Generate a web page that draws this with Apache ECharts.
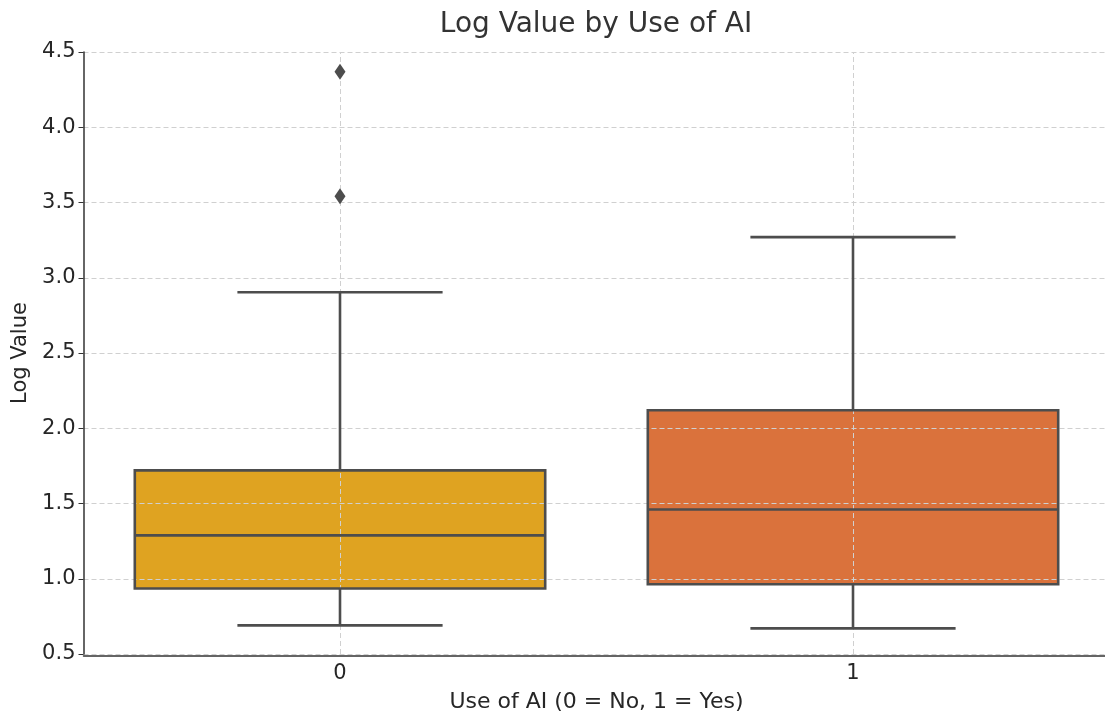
<!DOCTYPE html>
<html>
<head>
<meta charset="utf-8">
<title>Log Value by Use of AI</title>
<script src="https://cdn.jsdelivr.net/npm/echarts@6/dist/echarts.min.js"></script>
<style>
  html, body { margin: 0; padding: 0; background: #fff; }
  #chart { width: 1105px; height: 714px; }
</style>
</head>
<body>
<div id="chart"></div>
<script>
// 数据
const categories = ['0', '1'];
const lowWhisker = [0.69, 0.67];
const q1 = [0.935, 0.963];
const median = [1.288, 1.46];
const q3 = [1.72, 2.12];
const highWhisker = [2.904, 3.27];
const outliers = [[0, 3.542], [0, 4.368]];
const boxColors = ['#DFA321', '#DA723C'];

const FONT = 'DejaVu Sans';
const EDGE = '#4d4d4d';

const boxData = categories.map(function (c, i) {
  return [i, lowWhisker[i], q1[i], median[i], q3[i], highWhisker[i]];
});

// 箱体填充
function renderFill(params, api) {
  const idx = api.value(0);
  const band = api.size([1, 0])[0];
  const w = band * 0.8;
  const top = api.coord([idx, api.value(4)]);
  const bot = api.coord([idx, api.value(2)]);
  return {
    type: 'rect',
    shape: { x: top[0] - w / 2, y: top[1], width: w, height: bot[1] - top[1] },
    style: { fill: boxColors[idx] }
  };
}

// 箱体边框、中位线、须
function renderLines(params, api) {
  const idx = api.value(0);
  const band = api.size([1, 0])[0];
  const w = band * 0.8;
  const cap = band * 0.4;
  const lo = api.coord([idx, api.value(1)]);
  const b1 = api.coord([idx, api.value(2)]);
  const md = api.coord([idx, api.value(3)]);
  const b3 = api.coord([idx, api.value(4)]);
  const hi = api.coord([idx, api.value(5)]);
  const cx = lo[0];
  const ls = { stroke: EDGE, lineWidth: 2.6, fill: null };
  return {
    type: 'group',
    children: [
      { type: 'rect', shape: { x: cx - w / 2, y: b3[1], width: w, height: b1[1] - b3[1] }, style: ls },
      { type: 'line', shape: { x1: cx - w / 2, y1: md[1], x2: cx + w / 2, y2: md[1] }, style: ls },
      { type: 'line', shape: { x1: cx, y1: b1[1], x2: cx, y2: lo[1] }, style: ls },
      { type: 'line', shape: { x1: cx, y1: b3[1], x2: cx, y2: hi[1] }, style: ls },
      { type: 'line', shape: { x1: cx - cap / 2, y1: lo[1], x2: cx + cap / 2, y2: lo[1] }, style: ls },
      { type: 'line', shape: { x1: cx - cap / 2, y1: hi[1], x2: cx + cap / 2, y2: hi[1] }, style: ls }
    ]
  };
}

const myChart = echarts.init(document.getElementById('chart'));

const options = {
  animation: false,
  textStyle: { fontFamily: FONT },
  title: {
    text: 'Log Value by Use of AI',
    left: 591,
    textAlign: 'center',
    top: 6,
    textStyle: { fontFamily: FONT, fontSize: 28, fontWeight: 'normal', color: '#333333' }
  },
  grid: { left: 83.5, right: -4.5, top: 52, bottom: 60, outerBoundsMode: 'none', containLabel: false },
  xAxis: {
    type: 'category',
    data: categories,
    boundaryGap: true,
    offset: 2,
    z: 2,
    name: 'Use of AI (0 = No, 1 = Yes)',
    nameLocation: 'middle',
    nameGap: 35,
    nameTextStyle: { fontFamily: FONT, fontSize: 22, color: '#262626' },
    axisLine: { lineStyle: { color: '#333333', width: 1.5 } },
    axisTick: { alignWithLabel: true, inside: true, length: 4, lineStyle: { color: '#333333' } },
    axisLabel: { fontFamily: FONT, fontSize: 21, color: '#262626', margin: 7 },
    splitLine: { show: false }
  },
  yAxis: {
    type: 'value',
    min: 0.5,
    max: 4.5,
    interval: 0.5,
    z: 2,
    name: 'Log Value',
    nameLocation: 'middle',
    nameGap: 50,
    nameTextStyle: { fontFamily: FONT, fontSize: 21, color: '#262626' },
    axisLine: { show: true, lineStyle: { color: '#333333', width: 1.5 } },
    axisTick: { show: true, length: 5, lineStyle: { color: '#333333' } },
    axisLabel: {
      fontFamily: FONT, fontSize: 21, color: '#262626', margin: 8,
      formatter: function (v) { return v.toFixed(1); }
    },
    splitLine: { show: true, lineStyle: { color: '#d0d0d0', type: [5, 3], width: 1 } }
  },
  series: [
    {
      type: 'custom',
      name: 'fill',
      z: 1,
      silent: true,
      renderItem: renderFill,
      encode: { x: 0, y: [1, 2, 3, 4, 5] },
      data: boxData,
      markLine: {
        silent: true,
        symbol: 'none',
        z: 2,
        label: { show: false },
        lineStyle: { color: '#d0d0d0', type: [5, 3], width: 1 },
        data: categories.map(function (c) { return { xAxis: c }; })
      }
    },
    {
      type: 'custom',
      name: 'box',
      z: 3,
      silent: true,
      renderItem: renderLines,
      encode: { x: 0, y: [1, 2, 3, 4, 5] },
      data: boxData
    },
    {
      type: 'scatter',
      name: 'outliers',
      z: 4,
      symbol: 'diamond',
      symbolSize: [11, 16],
      itemStyle: { color: EDGE, opacity: 1 },
      data: outliers
    }
  ]
};

myChart.setOption(options, true);
</script>
</body>
</html>
